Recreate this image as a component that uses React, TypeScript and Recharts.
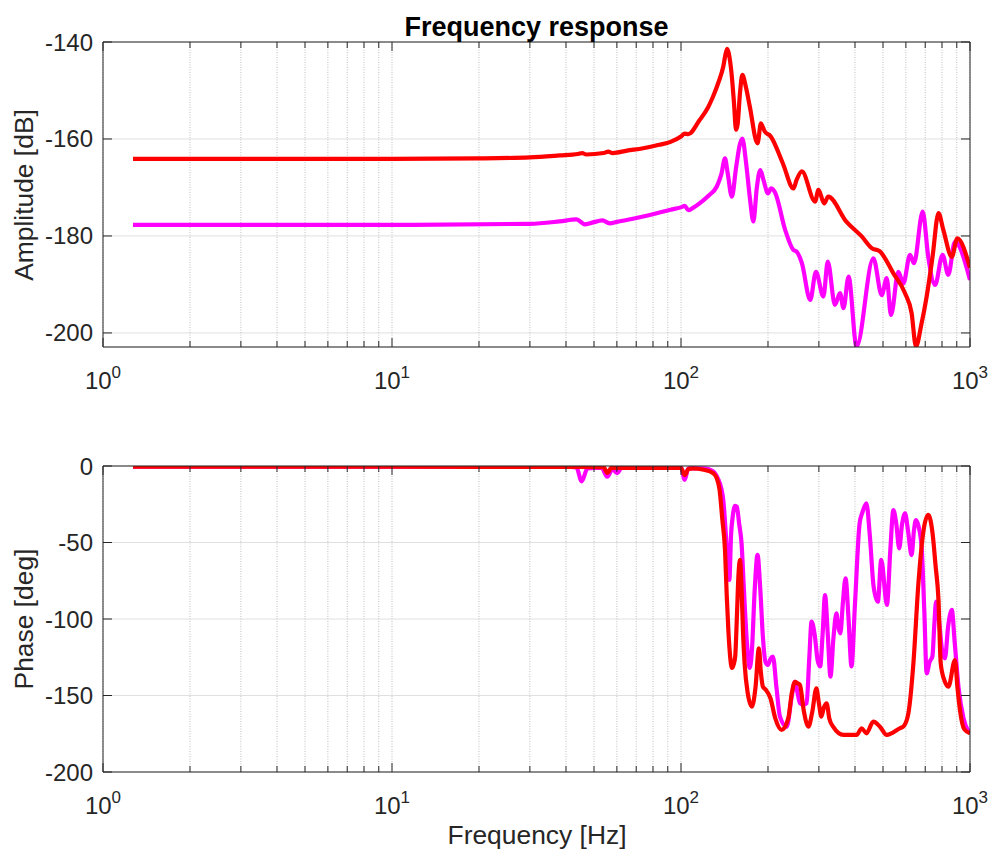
import React from 'react';
import { LineChart, Line, XAxis, YAxis, CartesianGrid } from 'recharts';

const FONT = '"Liberation Sans", Arial, Helvetica, sans-serif';
const INK = '#262626';

// ---- axis ticks ----
const xTicks = [1, 2, 3, 4, 5, 6, 7, 8, 9, 10, 20, 30, 40, 50, 60, 70, 80, 90, 100, 200, 300, 400, 500, 600, 700, 800, 900, 1000];
const ampTicks = [-200, -180, -160, -140];
const phaseTicks = [-200, -150, -100, -50, 0];
const ampDomain = [-202.9, -140];
const phaseDomain = [-200, 0];

// ---- amplitude: red ----
const redAmpFreq = [1.27, 3, 10, 20, 30, 38, 44, 45.5, 47, 54, 56, 58, 65, 74, 84, 92, 100, 103, 106, 116, 124, 129, 135, 140, 143, 144.6, 146.5, 149.6, 152.5, 155, 157, 160, 163, 168, 173, 184, 189, 195, 204, 225, 245, 251, 262, 291, 299, 313, 323, 374, 422, 457, 488, 543, 596, 628, 650, 680, 708, 742, 778, 809, 865, 904, 1000];
const redAmpDb = [-164.1, -164.1, -164.1, -164.0, -163.8, -163.4, -163.1, -162.9, -163.2, -162.9, -162.6, -162.9, -162.4, -161.9, -161.2, -160.6, -159.5, -158.9, -159.0, -156.1, -153.5, -151.3, -148.2, -145.1, -142.2, -141.4, -142.5, -146.5, -152.5, -158.1, -157.0, -150.5, -146.8, -149.5, -153.3, -160.9, -156.8, -158.5, -159.4, -165.0, -170.2, -168.5, -166.7, -172.9, -170.5, -173.3, -171.9, -177.1, -180.1, -182.5, -183.2, -187.7, -191.8, -195.9, -202.8, -198.0, -192.5, -184.3, -175.3, -178.8, -184.3, -180.5, -186.6];

// ---- amplitude: magenta ----
const magAmpFreq = [1.27, 10, 30, 38, 43.5, 46.5, 49, 53.5, 56.6, 60, 74, 92, 101, 103, 106, 110, 118, 125, 133, 138, 142, 145, 150, 155, 160, 163, 168, 173, 178, 183, 188, 193, 200, 205, 211, 230, 245, 251, 262, 280, 293, 311, 322, 341, 355, 365, 380, 405, 463, 495, 515, 533, 565, 588, 620, 640, 686, 717, 757, 804, 841, 887, 1000];
const magAmpDb = [-177.7, -177.7, -177.5, -177.0, -176.6, -177.6, -177.3, -176.8, -177.4, -177.1, -176.0, -174.6, -174.0, -173.8, -174.7, -174.2, -172.9, -171.6, -169.8, -167.2, -164.0, -167.0, -171.9, -166.0, -161.0, -159.9, -165.0, -172.0, -177.0, -170.0, -166.4, -168.5, -171.2, -170.2, -170.9, -179.0, -182.9, -183.2, -185.6, -193.2, -187.4, -192.5, -185.3, -194.2, -191.8, -194.9, -188.4, -202.8, -184.6, -192.2, -188.7, -196.3, -187.4, -189.8, -183.9, -185.6, -175.0, -184.3, -190.1, -183.9, -188.0, -181.2, -189.1];

// ---- phase: red ----
const redPhFreq = [1.27, 10, 40, 54, 55.6, 57.5, 100, 103, 106, 110, 120, 129, 133, 136, 139, 142, 144, 146, 148, 150, 152, 154, 156, 158, 160, 162, 164, 166, 170, 176, 181, 186, 189, 192, 196, 204, 212, 223, 235, 242, 248, 253, 258, 266, 276, 285, 294, 300, 306, 312, 319, 326, 336, 365, 405, 422, 438, 463, 488, 515, 572, 590, 612, 637, 663, 691, 717, 742, 760, 778, 792, 815, 842, 887, 905, 923, 955, 1000];
const redPhDeg = [-0.5, -0.5, -0.6, -0.8, -4.5, -1, -1.2, -6, -2, -1.5, -2.5, -4.6, -8, -15.7, -35, -55, -85, -109, -125, -132, -130, -124.6, -100, -72, -61.4, -80, -110, -129, -148, -157.3, -145, -119.2, -135, -144.2, -146, -151.8, -165, -172.5, -165, -148, -141, -142, -143.1, -160, -170.4, -160, -145.3, -155, -163.8, -158, -155.1, -165, -170.4, -175.8, -175.8, -171.4, -174.7, -167.1, -170.4, -175.8, -171.4, -170, -161.7, -129, -76.7, -41.8, -32, -44, -65, -87.6, -129, -140, -144.2, -126.8, -145, -159.5, -172, -174.7];

// ---- phase: magenta ----
const magPhFreq = [1.27, 40, 43.5, 45.3, 47.5, 53, 55.6, 58, 60, 62.5, 100, 103, 106, 120, 129, 134, 138, 140, 143, 145, 147, 149, 151, 154, 156, 159, 162, 165, 169, 173, 176, 180, 184, 188, 192, 196, 200, 204, 208, 214, 220, 232, 242, 248, 253, 258, 265, 272, 278, 283, 290, 297, 303, 309, 315, 322, 329, 337, 345, 350, 356, 363, 371, 380, 389, 400, 415, 425, 438, 450, 464, 480, 493, 516, 530, 543, 556, 569, 582, 596, 610, 628, 640, 650, 665, 680, 695, 708, 725, 741, 752, 763, 780, 800, 819, 840, 865, 885, 912, 950, 1000];
const magPhDeg = [-0.5, -0.5, -1, -10, -1.5, -1, -7, -2, -4.6, -1, -1, -9, -1.5, -1.5, -3.5, -8, -15, -22, -45, -62, -74.5, -45, -33, -26, -26.6, -38, -50.5, -80, -115, -132, -120, -80, -58, -80, -111.5, -128, -130, -126, -124.6, -145, -163.8, -170.4, -150, -141, -148, -155, -156, -155, -125, -101.7, -110, -127, -131, -110, -84.3, -110, -137.7, -112, -96.3, -105, -109.4, -90, -73.4, -100, -131, -90, -37.5, -30, -24.4, -45, -78.9, -88.7, -61.4, -90.8, -55, -28.8, -38, -53.8, -38, -30.9, -42, -58.2, -42, -35.3, -40, -52.7, -95, -135.5, -128, -124.6, -105, -88.7, -100, -120, -125.7, -105, -94.1, -115, -144.2, -165, -174.7];

const zip = (f: number[], v: number[]) => f.map((x, i) => ({ f: x, v: v[i] }));

const isDecade = (v: number) => {
  const e = Math.log10(v);
  return Math.abs(e - Math.round(e)) < 1e-9;
};

const BottomTick = (props: any) => {
  const { x, y, payload } = props;
  const v = payload.value;
  const major = isDecade(v);
  return (
    <g>
      <line x1={x} y1={y} x2={x} y2={y - (major ? 9 : 6)} stroke={INK} strokeWidth={1} />
      {major && (
        <text x={x} y={y + 42} textAnchor="middle" fontSize={24} fill={INK} fontFamily={FONT}>
          10
          <tspan dy={-11} fontSize={17}>
            {Math.round(Math.log10(v))}
          </tspan>
        </text>
      )}
    </g>
  );
};

const TopTick = (props: any) => {
  const { x, y, payload } = props;
  const major = isDecade(payload.value);
  return <line x1={x} y1={y} x2={x} y2={y + (major ? 9 : 6)} stroke={INK} strokeWidth={1} />;
};

const LeftTick = (props: any) => {
  const { x, y, payload } = props;
  return (
    <g>
      <line x1={x} y1={y} x2={x + 9} y2={y} stroke={INK} strokeWidth={1} />
      <text x={x - 10} y={y} textAnchor="end" dominantBaseline="central" fontSize={24} fill={INK} fontFamily={FONT}>
        {String(payload.value)}
      </text>
    </g>
  );
};

const RightTick = (props: any) => {
  const { x, y } = props;
  return <line x1={x} y1={y} x2={x - 9} y2={y} stroke={INK} strokeWidth={1} />;
};

type PanelProps = {
  height: number;
  margin: { top: number; right: number; bottom: number; left: number };
  yDomain: number[];
  yTicks: number[];
  magenta: { f: number; v: number }[];
  red: { f: number; v: number }[];
};

function Panel({ height, margin, yDomain, yTicks, magenta, red }: PanelProps) {
  return (
    <LineChart width={991} height={height} margin={margin}>
      <CartesianGrid horizontal vertical={false} stroke="#e0e0e0" strokeWidth={1} />
      <CartesianGrid horizontal={false} vertical stroke="#bfbfbf" strokeDasharray="1 1.5" strokeWidth={1} />
      <XAxis
        dataKey="f"
        type="number"
        scale="log"
        domain={[1, 1000]}
        allowDataOverflow
        ticks={xTicks}
        interval={0}
        tickSize={0}
        tickMargin={0}
        tickLine={false}
        tick={<BottomTick />}
        height={50}
        stroke={INK}
      />
      <XAxis
        xAxisId="top"
        orientation="top"
        dataKey="f"
        type="number"
        scale="log"
        domain={[1, 1000]}
        allowDataOverflow
        ticks={xTicks}
        interval={0}
        tickSize={0}
        tickMargin={0}
        tickLine={false}
        tick={<TopTick />}
        height={1}
        stroke={INK}
      />
      <YAxis
        type="number"
        domain={yDomain}
        allowDataOverflow
        ticks={yTicks}
        interval={0}
        tickSize={0}
        tickMargin={0}
        tickLine={false}
        tick={<LeftTick />}
        width={60}
        stroke={INK}
      />
      <YAxis
        yAxisId="r"
        orientation="right"
        type="number"
        domain={yDomain}
        allowDataOverflow
        ticks={yTicks}
        interval={0}
        tickSize={0}
        tickMargin={0}
        tickLine={false}
        tick={<RightTick />}
        width={1}
        stroke={INK}
      />
      <Line data={magenta} dataKey="v" type="monotone" stroke="#ff00ff" strokeWidth={4.2} dot={false} activeDot={false} isAnimationActive={false} />
      <Line data={red} dataKey="v" type="monotone" stroke="#ff0000" strokeWidth={4.2} dot={false} activeDot={false} isAnimationActive={false} />
    </LineChart>
  );
}

export default function App() {
  return (
    <div style={{ position: 'relative', width: 991, height: 856, background: '#fff', fontFamily: FONT }}>
      <style>{'body{margin:0}'}</style>
      <div style={{ position: 'absolute', left: 0, top: 0 }}>
        <Panel
          height={400}
          margin={{ top: 41, right: 20, bottom: 3, left: 43 }}
          yDomain={ampDomain}
          yTicks={ampTicks}
          magenta={zip(magAmpFreq, magAmpDb)}
          red={zip(redAmpFreq, redAmpDb)}
        />
      </div>
      <div style={{ position: 'absolute', left: 0, top: 420 }}>
        <Panel
          height={436}
          margin={{ top: 45, right: 20, bottom: 34, left: 43 }}
          yDomain={phaseDomain}
          yTicks={phaseTicks}
          magenta={zip(magPhFreq, magPhDeg)}
          red={zip(redPhFreq, redPhDeg)}
        />
      </div>
      <svg width={991} height={856} style={{ position: 'absolute', left: 0, top: 0, pointerEvents: 'none' }}>
        <text x={536.5} y={27} textAnchor="middle" dominantBaseline="central" fontSize={27} fontWeight="bold" fill="#000" fontFamily={FONT}>
          Frequency response
        </text>
        <text x={537} y={835} textAnchor="middle" dominantBaseline="central" fontSize={26.4} fill={INK} fontFamily={FONT}>
          Frequency [Hz]
        </text>
        <text x={24} y={195} textAnchor="middle" dominantBaseline="central" fontSize={26.4} fill={INK} fontFamily={FONT} transform="rotate(-90 24 195)">
          Amplitude [dB]
        </text>
        <text x={24} y={619} textAnchor="middle" dominantBaseline="central" fontSize={26.4} fill={INK} fontFamily={FONT} transform="rotate(-90 24 619)">
          Phase [deg]
        </text>
      </svg>
    </div>
  );
}
